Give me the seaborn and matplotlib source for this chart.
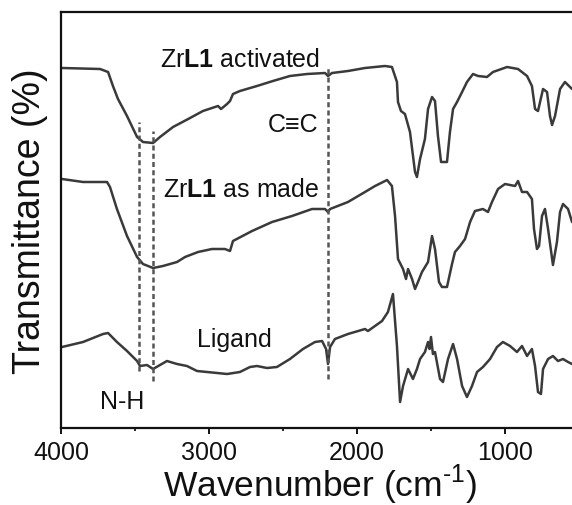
import matplotlib
matplotlib.use("Agg")
import matplotlib.pyplot as plt
from matplotlib.ticker import MultipleLocator
import numpy as np
import pandas as pd
import seaborn as sns

# FTIR spectra (transmittance, arbitrary offset units) vs wavenumber (cm^-1)
activated_wn = [3993, 3736, 3682, 3649, 3615, 3554, 3486, 3446, 3378, 3331, 3243, 3128,
                3041, 2939, 2919, 2878, 2858, 2838, 2791, 2676, 2568, 2453, 2338, 2216,
                2196, 2169, 2061, 1946, 1811, 1764, 1730, 1723, 1703, 1676, 1642, 1608,
                1595, 1574, 1541, 1520, 1493, 1473, 1453, 1432, 1392, 1372, 1351, 1324,
                1290, 1257, 1216, 1182, 1122, 1081, 986, 912, 851, 818, 797, 777, 743,
                716, 696, 682, 662, 628, 595, 547]
activated_t = [360, 359, 356, 342, 329, 312, 291, 286, 285, 291, 301, 310,
               317, 322, 319, 324, 327, 334, 337, 342, 347, 352, 354, 355,
               352, 355, 357, 360, 362, 361, 346, 326, 317, 314, 296, 256,
               251, 269, 289, 319, 331, 327, 292, 266, 266, 296, 319, 326,
               336, 346, 354, 352, 351, 356, 361, 359, 352, 342, 319, 317, 339,
               336, 312, 303, 312, 339, 346, 339]

as_made_wn = [3993, 3851, 3689, 3669, 3622, 3554, 3486, 3446, 3378, 3311, 3216, 3162,
              3074, 2980, 2892, 2858, 2838, 2709, 2574, 2439, 2304, 2216, 2196, 2182,
              2061, 1946, 1878, 1797, 1764, 1743, 1723, 1689, 1669, 1655, 1628, 1608,
              1588, 1561, 1520, 1493, 1473, 1446, 1426, 1392, 1358, 1338, 1304, 1270,
              1236, 1203, 1149, 1115, 1088, 1047, 1000, 932, 912, 885, 851, 818, 804,
              784, 770, 750, 730, 709, 676, 649, 628, 608, 574, 547]
as_made_t = [249, 246, 246, 241, 219, 192, 171, 164, 160, 162, 166, 171,
             176, 179, 179, 177, 187, 197, 206, 212, 219, 219, 216, 219,
             226, 236, 242, 248, 242, 212, 169, 159, 149, 159, 149, 139,
             146, 156, 166, 192, 179, 146, 141, 141, 164, 176, 182, 189,
             206, 217, 219, 216, 226, 239, 244, 242, 247, 236, 236, 229, 199,
             179, 182, 212, 219, 199, 163, 186, 216, 224, 219, 206]

ligand_wn = [3993, 3851, 3716, 3682, 3622, 3554, 3486, 3466, 3419, 3378, 3331, 3284,
             3216, 3149, 3081, 3013, 2878, 2791, 2723, 2676, 2608, 2541, 2453, 2365,
             2284, 2236, 2209, 2196, 2182, 2149, 2061, 1946, 1926, 1831, 1791, 1757,
             1730, 1709, 1689, 1655, 1622, 1595, 1574, 1541, 1520, 1510, 1500, 1487,
             1473, 1439, 1419, 1385, 1351, 1324, 1290, 1257, 1223, 1189, 1149, 1101,
             1054, 1014, 966, 919, 885, 851, 818, 797, 777, 757, 743, 709, 676, 642,
             608, 574, 547]
ligand_t = [81, 86, 94, 95, 86, 77, 67, 62, 63, 59, 63, 67,
            64, 62, 57, 56, 54, 56, 61, 62, 60, 61, 69, 79,
            86, 87, 79, 64, 81, 89, 94, 99, 97, 107, 116, 134,
            82, 26, 42, 59, 49, 59, 69, 76, 86, 79, 91, 74,
            76, 49, 46, 69, 84, 69, 42, 31, 42, 56, 61, 69,
            81, 86, 82, 76, 82, 72, 79, 62, 36, 34, 59, 69, 72, 67,
            69, 66, 64]

samples = ["ZrL1 activated", "ZrL1 as made", "Ligand"]

# Reference band positions: N-H stretches and C≡C stretch
band_wn = [3473, 3378, 2196]
band_lo = [57, 47, 49]
band_hi = [306, 297, 362]

df = pd.concat([
    pd.DataFrame({"wavenumber": activated_wn, "T": activated_t, "sample": samples[0]}),
    pd.DataFrame({"wavenumber": as_made_wn, "T": as_made_t, "sample": samples[1]}),
    pd.DataFrame({"wavenumber": ligand_wn, "T": ligand_t, "sample": samples[2]}),
])

sns.set_style("ticks")
plt.rcParams["font.family"] = ["Liberation Sans", "DejaVu Sans"]
plt.rcParams["mathtext.fontset"] = "custom"
plt.rcParams["mathtext.rm"] = "Liberation Sans"
plt.rcParams["mathtext.bf"] = "Liberation Sans:bold"

fig = plt.figure(figsize=(5.72, 5.06), dpi=100)
ax = fig.add_axes([61 / 572, 77 / 506, 518 / 572, 416 / 506])

line_color = "#3a3a3a"
sns.lineplot(data=df, x="wavenumber", y="T", hue="sample", units="sample",
             estimator=None, palette=[line_color] * 3, linewidth=1.8,
             legend=False, ax=ax, sort=False)

for wn, lo, hi in zip(band_wn, band_lo, band_hi):
    ax.vlines(wn, lo, hi, colors="#555555", linestyles=(0, (2.0, 1.3)), linewidth=1.8)

ax.set_xlim(4000, 500)
ax.set_ylim(0, 416)
ax.xaxis.set_major_locator(MultipleLocator(1000))
ax.xaxis.set_minor_locator(MultipleLocator(500))
ax.set_yticks([])
ax.tick_params(axis="x", which="major", direction="out", length=4.5, width=1.4,
               pad=4, labelsize=18, colors="#111111")
ax.tick_params(axis="x", which="minor", direction="out", length=2.5, width=1.4)

for side in ["left", "bottom", "top"]:
    ax.spines[side].set_linewidth(1.6)
    ax.spines[side].set_color("#111111")
ax.spines["right"].set_visible(False)

ax.set_xlabel(r"Wavenumber (cm$^{\text{-1}}$)", fontsize=25.5, labelpad=-1.5, color="#111111")
ax.set_ylabel("Transmittance (%)", fontsize=27, labelpad=9, color="#111111")

label_kw = dict(fontsize=18, ha="center", va="baseline", color="#111111")
ax.text(2791, 362, r"Zr$\mathbf{L1}$ activated", **label_kw)
ax.text(2784, 232, r"Zr$\mathbf{L1}$ as made", **label_kw)
ax.text(2828, 82, "Ligand", **label_kw)
ax.text(2432, 297, "C\u2261C", **label_kw)
ax.text(3588, 20, "N-H", **label_kw)

fig.savefig("out.png", dpi=100)
